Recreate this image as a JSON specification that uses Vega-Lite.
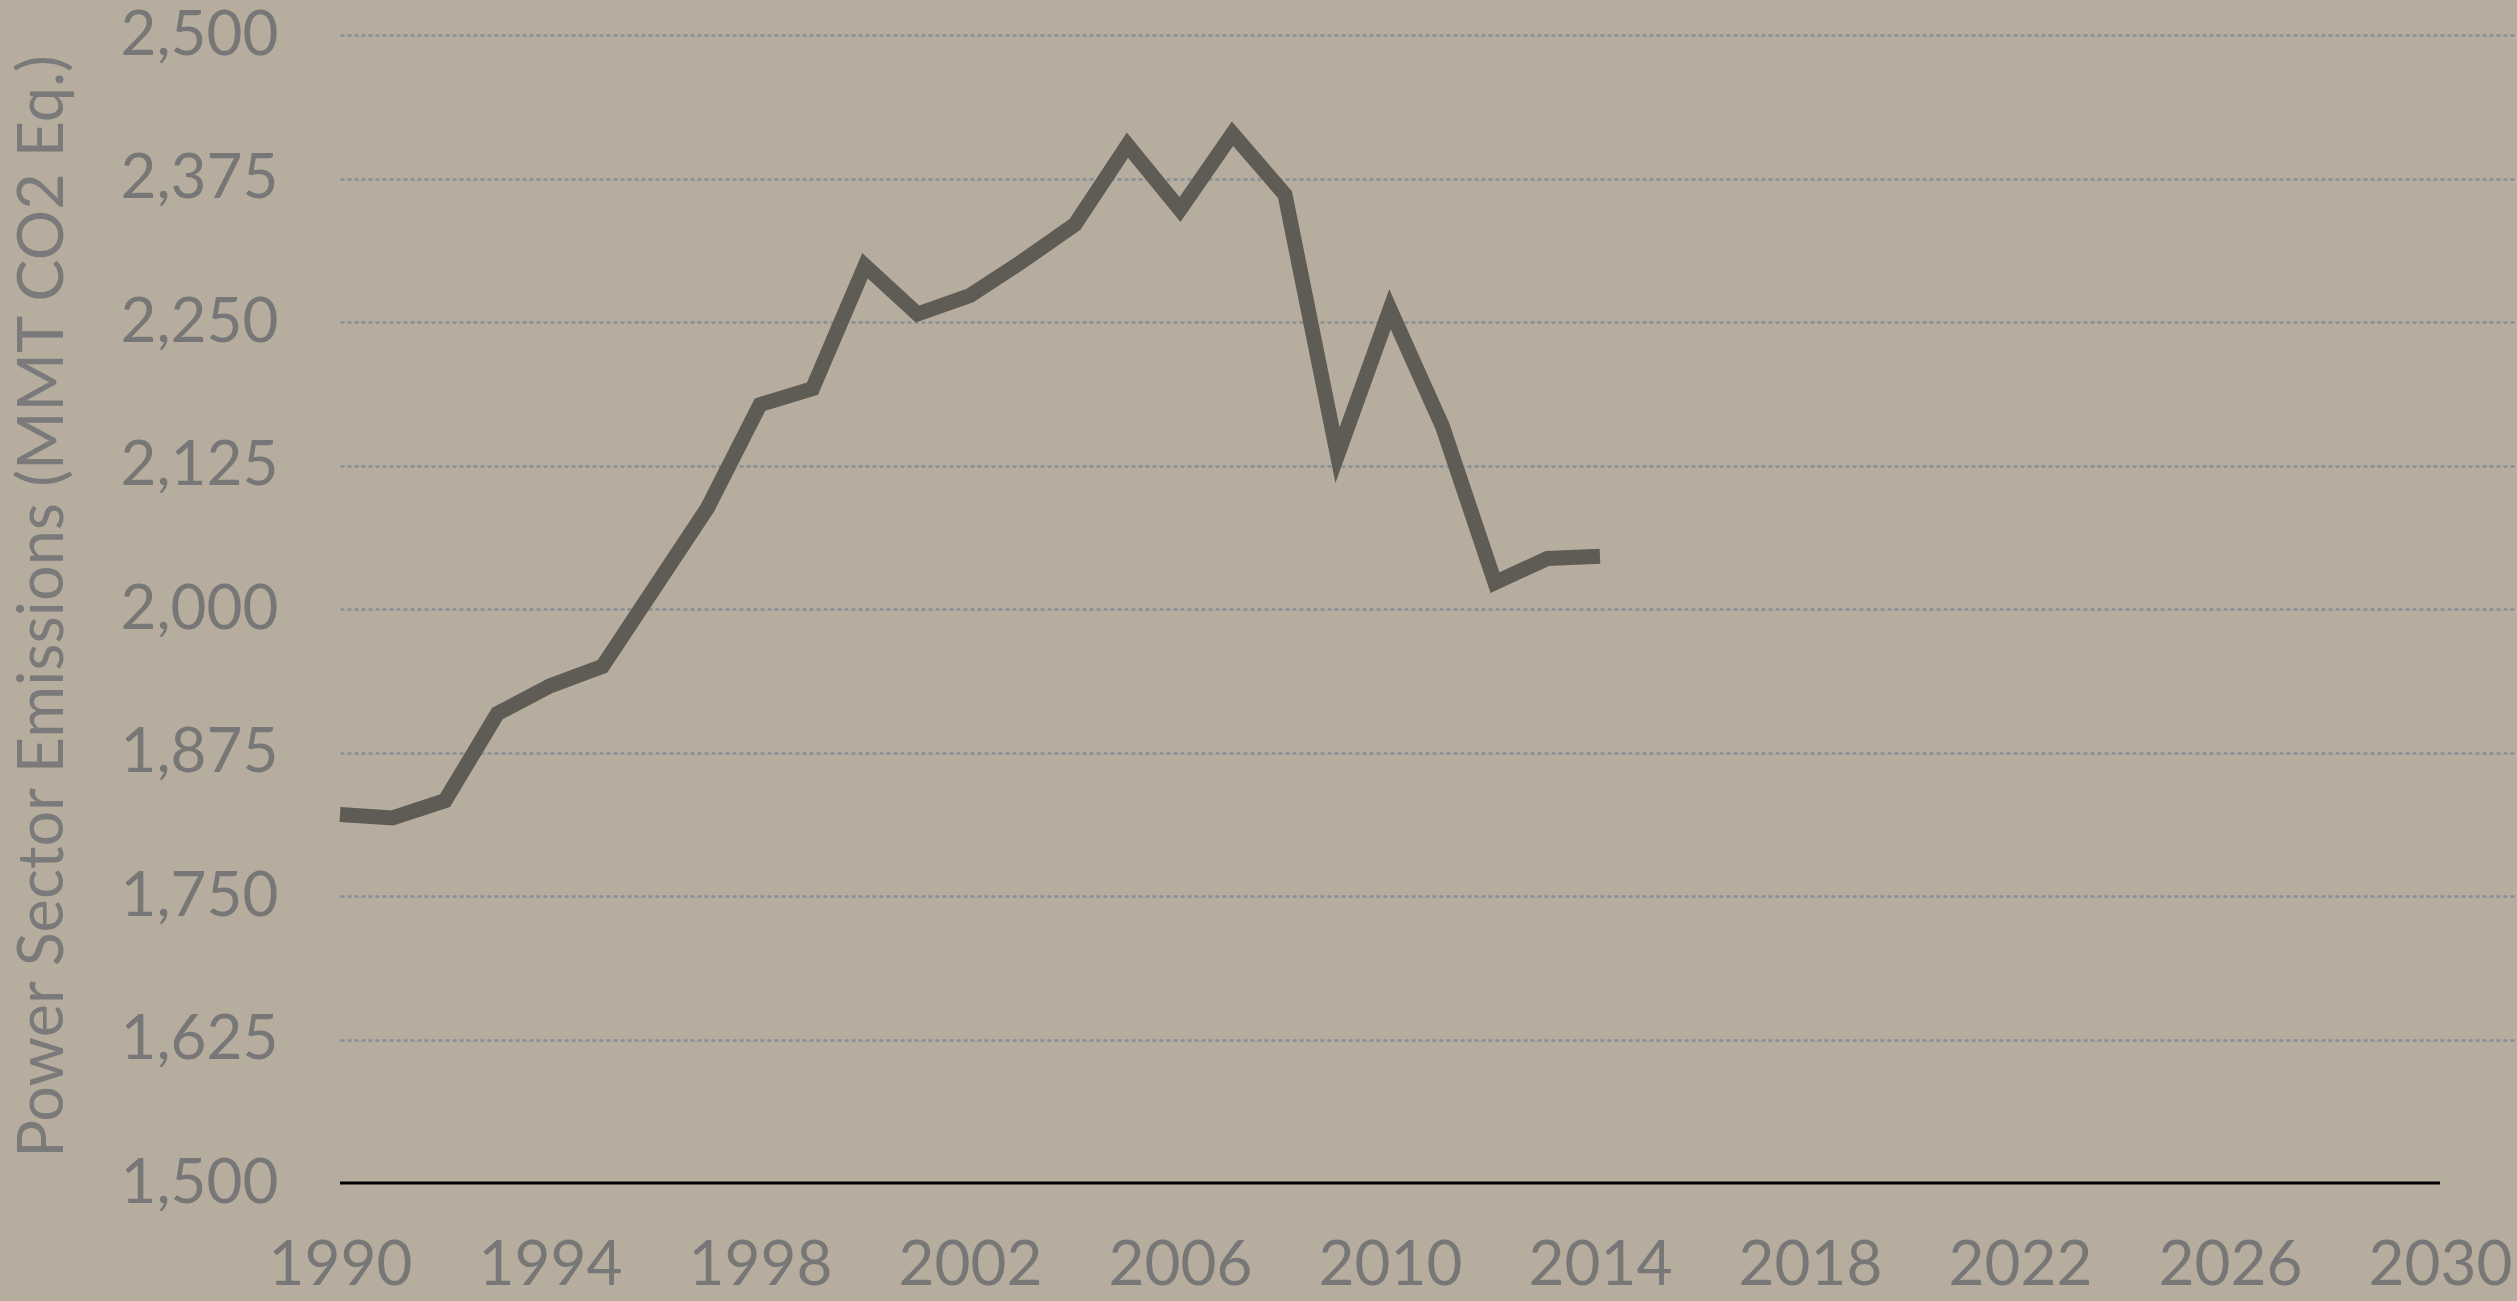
{
  "$schema": "https://vega.github.io/schema/vega-lite/v6.json",
  "width": 2177,
  "height": 1148,
  "autosize": {"type": "none"},
  "padding": {"left": 340, "top": 35, "right": 0, "bottom": 118},
  "background": "#b7ad9f",
  "config": {"view": {"stroke": null}, "font": "Lato"},
  "layer": [
    {
      "data": {"values": [
        {"year": 1990, "emissions": 1821},
        {"year": 1991, "emissions": 1818},
        {"year": 1992, "emissions": 1833},
        {"year": 1993, "emissions": 1909},
        {"year": 1994, "emissions": 1933},
        {"year": 1995, "emissions": 1950},
        {"year": 1996, "emissions": 2019},
        {"year": 1997, "emissions": 2088},
        {"year": 1998, "emissions": 2178},
        {"year": 1999, "emissions": 2192},
        {"year": 2000, "emissions": 2299},
        {"year": 2001, "emissions": 2257},
        {"year": 2002, "emissions": 2273},
        {"year": 2003, "emissions": 2303},
        {"year": 2004, "emissions": 2335},
        {"year": 2005, "emissions": 2404},
        {"year": 2006, "emissions": 2348},
        {"year": 2007, "emissions": 2414},
        {"year": 2008, "emissions": 2361},
        {"year": 2009, "emissions": 2134},
        {"year": 2010, "emissions": 2261},
        {"year": 2011, "emissions": 2159},
        {"year": 2012, "emissions": 2023},
        {"year": 2013, "emissions": 2044},
        {"year": 2014, "emissions": 2046}
      ]},
      "mark": {"type": "line", "color": "#5f5b55", "strokeWidth": 15, "strokeJoin": "miter", "strokeCap": "butt"},
      "encoding": {
        "x": {
          "field": "year", "type": "quantitative",
          "scale": {"domain": [1990, 2031.467], "nice": false, "zero": false},
          "axis": {
            "values": [1990, 1994, 1998, 2002, 2006, 2010, 2014, 2018, 2022, 2026, 2030],
            "format": "d", "title": null, "domain": false, "ticks": false, "tickSize": 0, "grid": false,
            "labelFontSize": 62, "labelColor": "#777777", "labelFont": "Lato",
            "labelPadding": 82, "labelBaseline": "middle", "labelLimit": 500,
            "labelFlush": false, "labelOverlap": false, "labelBound": false
          }
        },
        "y": {
          "field": "emissions", "type": "quantitative",
          "scale": {"domain": [1500, 2500], "nice": false, "zero": false},
          "axis": {
            "values": [1500, 1625, 1750, 1875, 2000, 2125, 2250, 2375, 2500],
            "format": ",.0f", "domain": false, "ticks": false, "tickSize": 0,
            "grid": true,
            "gridColor": {"condition": {"test": "datum.value === 1500", "value": "transparent"}, "value": "#878e99"},
            "gridDash": [4, 3], "gridWidth": 2.5,
            "labelFontSize": 62, "labelColor": "#777777", "labelFont": "Lato", "labelPadding": 62,
            "labelLimit": 500, "labelOverlap": false, "labelBound": false,
            "title": "Power Sector Emissions (MMT CO2 Eq.)",
            "titleFont": "Lato", "titleFontSize": 63, "titleFontWeight": "normal", "titleColor": "#7a7a7a",
            "titleLimit": 2000,
            "titleAngle": -90, "titleX": -297, "titleY": 571, "titleAlign": "center", "titleBaseline": "middle"
          }
        }
      }
    },
    {
      "data": {"values": [{"start": 1990, "end": 2030, "base": 1500}]},
      "mark": {"type": "rule", "color": "#000000", "strokeWidth": 3},
      "encoding": {
        "x": {"field": "start", "type": "quantitative"},
        "x2": {"field": "end"},
        "y": {"field": "base", "type": "quantitative"}
      }
    }
  ]
}
